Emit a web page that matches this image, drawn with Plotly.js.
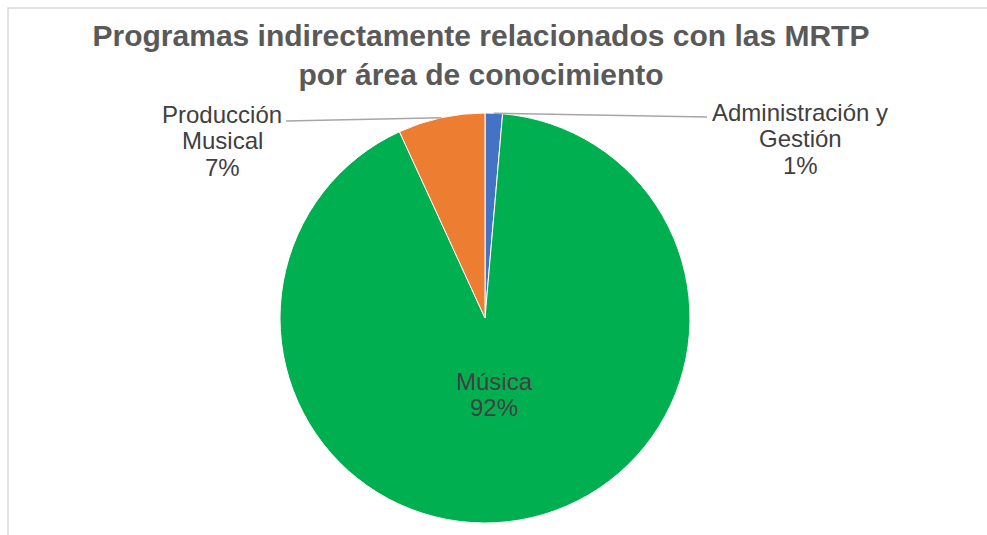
<!DOCTYPE html>
<html><head><meta charset="utf-8">
<script src="https://cdn.plot.ly/plotly-3.0.1.min.js"></script>
<style>html,body{margin:0;padding:0;background:#fff}#chart{width:987px;height:535px}</style>
</head><body><div id="chart"></div>
<script>
const categories = ["Administración y Gestión", "Música", "Producción Musical"];
const values = [1, 67, 5];
const colors = ["#4472C4", "#00B050", "#ED7D31"];
const labelLines = [["Administración y", "Gestión"], ["Música"], ["Producción", "Musical"]];
const titleText = "Programas indirectamente relacionados con las MRTP<br>por área de conocimiento";

const W = 987, H = 535;
const FONT = "Liberation Sans, Arial, sans-serif";
const total = values.reduce((a, b) => a + b, 0);
const pct = values.map(v => Math.round(v / total * 100) + "%");

// pie geometry in px
const cx = 485, cy = 318, R = 205;
const px = x => x / W, py = y => 1 - y / H;

// label placement: center x, baseline of first line (px)
const labelPos = [{x: 800, y: 120}, {x: 494, y: 389}, {x: 222, y: 122}];
const showLeader = [true, false, true];
const leaderEnd = [{x: 707, y: 117}, null, {x: 286, y: 121}];
const lineGap = 26.5, fs = 24;

const annotations = [];
categories.forEach((c, i) => {
  const lines = labelLines[i].concat([pct[i]]);
  lines.forEach((t, k) => {
    const base = labelPos[i].y + k * lineGap;
    annotations.push({
      xref: "paper", yref: "paper", x: px(labelPos[i].x), y: py(base - 0.33 * fs),
      xanchor: "center", yanchor: "middle", showarrow: false, text: t,
      font: {family: FONT, size: fs, color: "#404040"}
    });
  });
});

const shapes = [{
  type: "rect", xref: "paper", yref: "paper",
  x0: px(8), x1: px(1000), y0: py(545), y1: py(8),
  line: {color: "#d9d9d9", width: 1.5}, fillcolor: "rgba(0,0,0,0)", layer: "below"
}];
let acc = 0;
values.forEach((v, i) => {
  const mid = (acc + v / 2) / total * 2 * Math.PI;
  acc += v;
  if (!showLeader[i]) return;
  const sx = cx + R * Math.sin(mid), sy = cy - R * Math.cos(mid);
  shapes.push({
    type: "line", xref: "paper", yref: "paper",
    x0: px(sx), y0: py(sy), x1: px(leaderEnd[i].x), y1: py(leaderEnd[i].y),
    line: {color: "#a6a6a6", width: 1.5}
  });
});

const trace = {
  type: "pie", labels: categories, values: values, sort: false,
  direction: "clockwise", rotation: 0, textinfo: "none", hoverinfo: "label+percent",
  marker: {colors: colors, line: {color: "#ffffff", width: 1}},
  domain: {x: [px(cx - R), px(cx + R)], y: [py(cy + R), py(cy - R)]}
};

const layout = {
  width: W, height: H, margin: {l: 0, r: 0, t: 0, b: 0},
  paper_bgcolor: "#ffffff", showlegend: false,
  title: {
    text: "<b>" + titleText.replace("<br>", "</b><br><b>") + "</b>",
    font: {family: FONT, size: 30, color: "#595959"},
    x: px(481), xanchor: "center", xref: "paper",
    y: py(46), yanchor: "top", yref: "container"
  },
  annotations: annotations, shapes: shapes
};

Plotly.newPlot("chart", [trace], layout, {displayModeBar: false, staticPlot: true});
</script>
</body></html>
